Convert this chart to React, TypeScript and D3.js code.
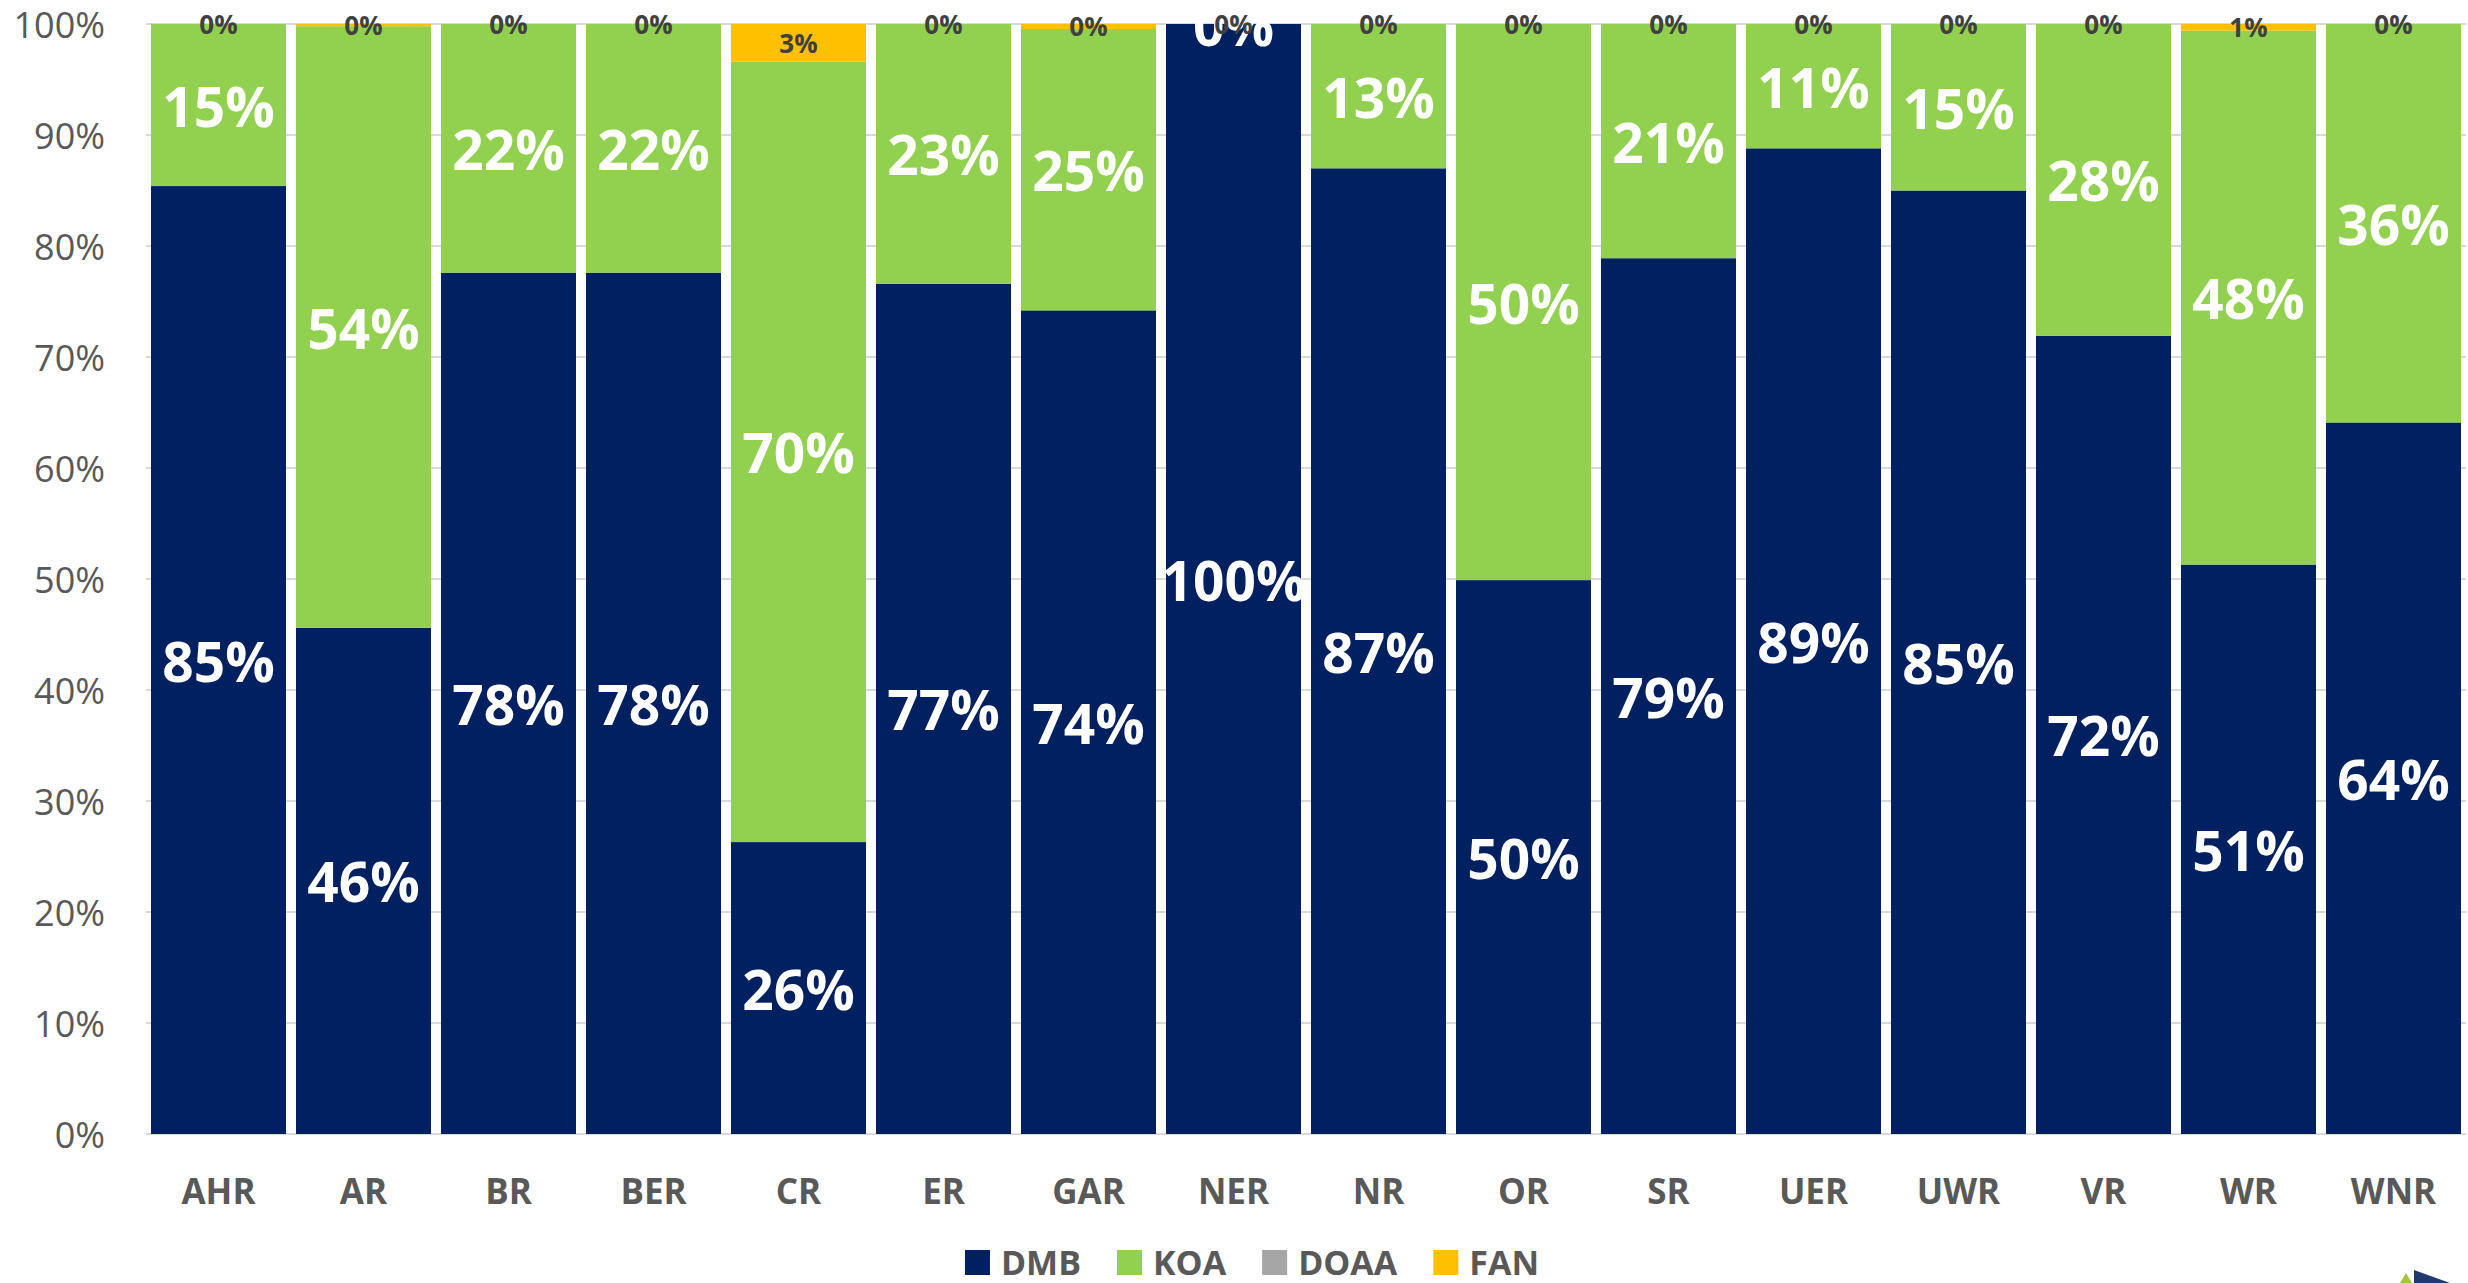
import React, { useEffect, useRef } from "react";
import * as d3 from "d3";

const categories = ["AHR", "AR", "BR", "BER", "CR", "ER", "GAR", "NER", "NR", "OR", "SR", "UER", "UWR", "VR", "WR", "WNR"];
const dmb = [85.4, 45.6, 77.6, 77.6, 26.3, 76.6, 74.2, 100, 87.0, 49.9, 78.9, 88.8, 85.0, 71.9, 51.3, 64.1];
const koa = [14.6, 54.2, 22.4, 22.4, 70.3, 23.4, 25.35, 0, 13.0, 50.1, 21.1, 11.2, 15.0, 28.1, 48.1, 35.9];
const doaa = [0, 0, 0, 0, 0, 0, 0, 0, 0, 0, 0, 0, 0, 0, 0, 0];
const fan = [0, 0.2, 0, 0, 3.4, 0, 0.45, 0, 0, 0, 0, 0, 0, 0, 0.6, 0];
const seriesNames = ["DMB", "KOA", "DOAA", "FAN"];
const seriesColors = ["#002060", "#92D050", "#A6A6A6", "#FFC000"];
const yTicks = [0, 10, 20, 30, 40, 50, 60, 70, 80, 90, 100];

const W = 2468;
const H = 1283;
const FONT = "'Open Sans', 'Noto Sans', sans-serif";

export default function App() {
  const ref = useRef<SVGSVGElement>(null);

  useEffect(() => {
    const svg = d3.select(ref.current);
    svg.selectAll("*").remove();

    const x = d3.scaleBand<string>().domain(categories).range([146, 2466]).paddingInner(0.069).paddingOuter(0.0345);
    const y = d3.scaleLinear().domain([0, 100]).range([1134, 24]);

    // gridlines
    svg.append("g").selectAll("line").data(yTicks).join("line")
      .attr("x1", 146).attr("x2", 2466)
      .attr("y1", (d) => y(d)).attr("y2", (d) => y(d))
      .attr("stroke", "#d9d9d9").attr("stroke-width", 2);

    // y tick labels
    svg.append("g").selectAll("text").data(yTicks).join("text")
      .attr("x", 105).attr("y", (d) => y(d))
      .attr("text-anchor", "end").attr("dominant-baseline", "central")
      .attr("font-family", FONT).attr("font-size", 36).attr("fill", "#595959")
      .text((d) => d + "%");

    const rows = categories.map((c, i) => ({ cat: c, DMB: dmb[i], KOA: koa[i], DOAA: doaa[i], FAN: fan[i] }));
    const stack = d3.stack<any>().keys(seriesNames)(rows);

    stack.forEach((layer, si) => {
      svg.append("g").selectAll("rect").data(layer).join("rect")
        .attr("x", (d: any) => x(d.data.cat)!)
        .attr("width", x.bandwidth())
        .attr("y", (d: any) => y(d[1]))
        .attr("height", (d: any) => Math.max(0, y(d[0]) - y(d[1])))
        .attr("fill", seriesColors[si]);
    });

    // big labels for DMB and KOA
    [0, 1].forEach((si) => {
      svg.append("g").selectAll("text").data(stack[si]).join("text")
        .attr("x", (d: any) => x(d.data.cat)! + x.bandwidth() / 2)
        .attr("y", (d: any) => y((d[0] + d[1]) / 2))
        .attr("text-anchor", "middle").attr("dominant-baseline", "central")
        .attr("font-family", FONT).attr("font-weight", 700).attr("font-size", 55)
        .attr("fill", "#ffffff")
        .text((d: any) => Math.round(d[1] - d[0]) + "%");
    });

    // FAN labels
    svg.append("g").selectAll("text").data(stack[3]).join("text")
      .attr("x", (d: any) => x(d.data.cat)! + x.bandwidth() / 2)
      .attr("y", (d: any) => y((d[0] + d[1]) / 2))
      .attr("text-anchor", "middle").attr("dominant-baseline", "central")
      .attr("font-family", FONT).attr("font-weight", 700).attr("font-size", 26)
      .attr("fill", "#404040")
      .text((d: any) => Math.round(d[1] - d[0]) + "%");

    // category labels
    svg.append("g").selectAll("text").data(categories).join("text")
      .attr("x", (d) => x(d)! + x.bandwidth() / 2)
      .attr("y", 1190)
      .attr("text-anchor", "middle").attr("dominant-baseline", "central")
      .attr("font-family", FONT).attr("font-weight", 700).attr("font-size", 35)
      .attr("fill", "#595959")
      .text((d) => d);

    // legend
    const canvas = document.createElement("canvas");
    const ctx = canvas.getContext("2d")!;
    const LFS = 34;
    ctx.font = `700 ${LFS}px ${FONT}`;
    const markerW = 25, markerGap = 11, itemGap = 36;
    const widths = seriesNames.map((n) => markerW + markerGap + ctx.measureText(n).width);
    const total = d3.sum(widths) + itemGap * (seriesNames.length - 1);
    let cx = 1252 - total / 2;
    const lg = svg.append("g");
    seriesNames.forEach((n, i) => {
      lg.append("rect").attr("x", cx).attr("y", 1250).attr("width", markerW).attr("height", markerW).attr("fill", seriesColors[i]);
      lg.append("text").attr("x", cx + markerW + markerGap).attr("y", 1262)
        .attr("dominant-baseline", "central")
        .attr("font-family", FONT).attr("font-weight", 700).attr("font-size", LFS)
        .attr("fill", "#595959").text(n);
      cx += widths[i] + itemGap;
    });

    // partial logo at bottom right
    svg.append("polygon").attr("points", "2400,1283 2406,1273 2412,1283").attr("fill", "#a4c639");
    svg.append("polygon").attr("points", "2414,1270 2450,1283 2414,1283").attr("fill", "#1f3a6e");
  }, []);

  return (
    <div style={{ position: "absolute", left: 0, top: 0, width: W, height: H, background: "#fff" }}>
      <svg ref={ref} width={W} height={H} style={{ display: "block" }} />
    </div>
  );
}
